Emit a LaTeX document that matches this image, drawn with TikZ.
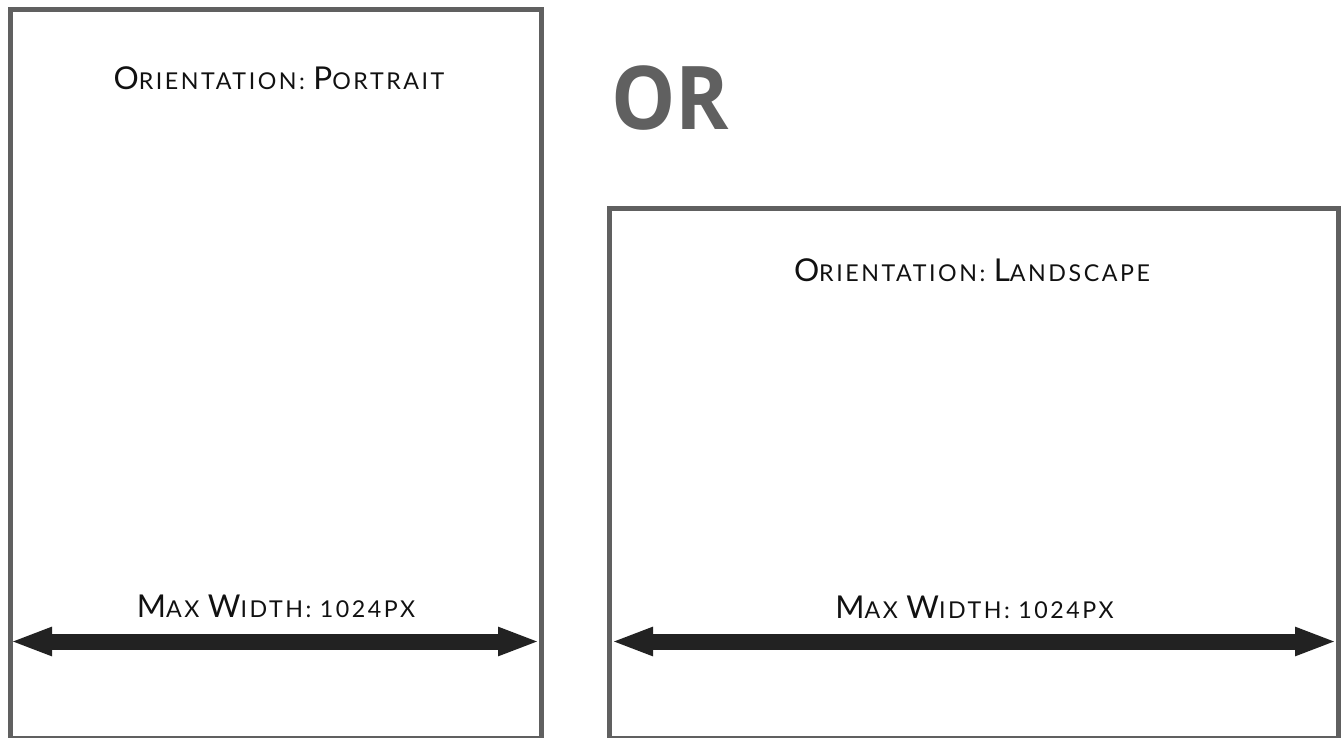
\documentclass[tikz,border=0pt]{standalone}
\usepackage{fontspec}
\setmainfont{Lato}[LetterSpace=11]
\newfontfamily\orfont{Open Sans}
\usetikzlibrary{arrows.meta}
\definecolor{boxgray}{HTML}{606060}
\definecolor{arrowdark}{HTML}{222222}
\definecolor{txt}{HTML}{111111}
\newcommand{\Bg}{\fontsize{31.5}{32}\selectfont}
\newcommand{\Sm}{\fontsize{23.2}{24}\selectfont}
\tikzset{
  frame/.style={draw=boxgray, line width=5pt},
  label/.style={text=txt, inner sep=0pt, anchor=base},
  widtharrow/.style={draw=arrowdark, line width=16pt,
    {Triangle[length=42pt,width=26pt]}-{Triangle[length=42pt,width=26pt]}},
}
\begin{document}
\begin{tikzpicture}[x=1pt,y=-1pt]
\useasboundingbox (0,0) rectangle (1343,738);
% frames
\draw[frame] (10.5,9.5) rectangle (541,738.5);
\draw[frame] (609,208.5) rectangle (1338.5,738.5);
% coordinates for arrows
\coordinate (pl) at (10,641.5);
\coordinate (pr) at (540,641.5);
\coordinate (ll) at (611,641.5);
\coordinate (lr) at (1337,641.5);
\draw[widtharrow] (pl) -- (pr);
\draw[widtharrow] (ll) -- (lr);
% labels
\node[label] (tp) at (279,90) {{\Bg O}{\Sm RIENTATION: }{\Bg P}{\Sm ORTRAIT}};
\node[label] (wp) at (276,617) {{\Bg M}{\Sm AX }{\Bg W}{\Sm IDTH: 1024PX}};
\node[label] (tl) at (972,281.7) {{\Bg O}{\Sm RIENTATION: }{\Bg L}{\Sm ANDSCAPE}};
\node[label] (wl) at (974.5,618) {{\Bg M}{\Sm AX }{\Bg W}{\Sm IDTH: 1024PX}};
\node[text=boxgray, inner sep=0pt, anchor=base west, xscale=0.92] (or) at (611,130) {\orfont\bfseries\fontsize{88}{90}\selectfont OR};
\end{tikzpicture}
\end{document}
